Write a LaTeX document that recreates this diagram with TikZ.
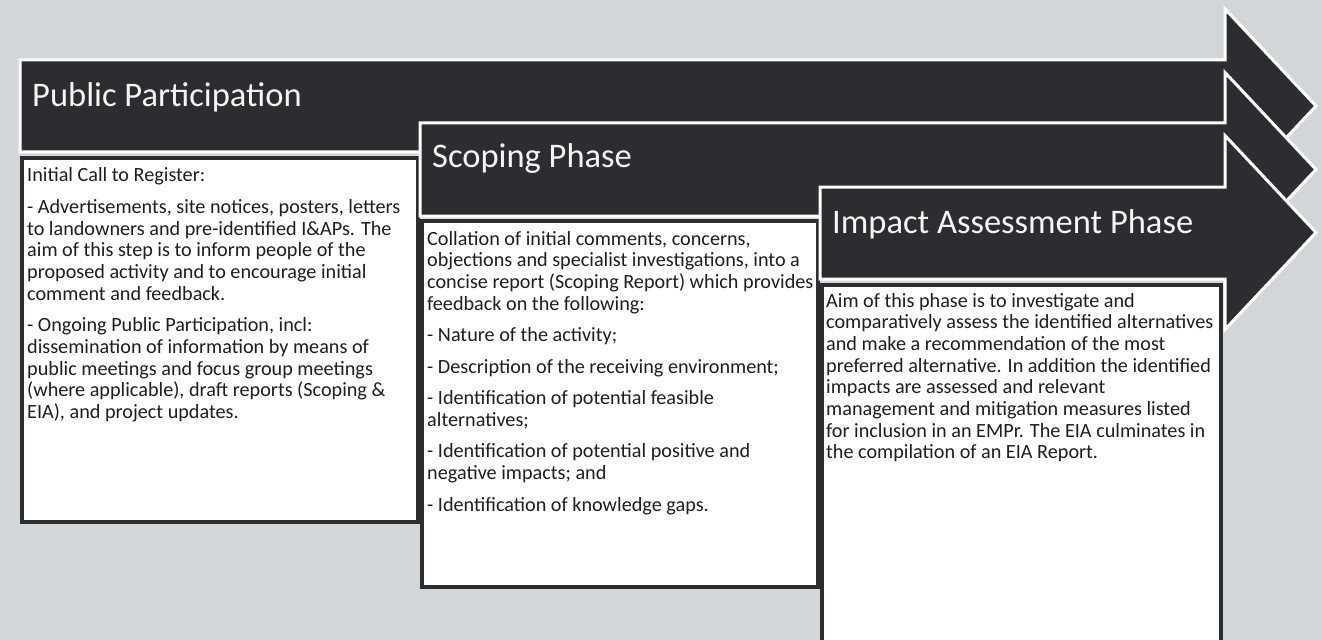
\documentclass[tikz,border=0pt]{standalone}
\usepackage{fontspec}
\setmainfont{Carlito}
\definecolor{bg}{HTML}{D3D6D9}
\definecolor{dk}{HTML}{2B2D30}
\definecolor{txt}{HTML}{1E1E1E}
\tikzset{
  phasearrow/.style={fill=dk, draw=white, line width=3bp, line join=miter},
  textbox/.style={fill=white, draw=dk, line width=4bp},
  titletext/.style={anchor=base west, inner sep=0, text=white!96!black, font=\fontsize{34.5bp}{40bp}\selectfont},
  bodytext/.style={anchor=base west, inner sep=0, text=txt, font=\fontsize{20.2bp}{21.7bp}\selectfont},
}
\newcommand{\pgap}{\\[9.8bp]}
\newenvironment{lines}{\begin{tabular}[t]{@{}l@{}}}{\end{tabular}}
\begin{document}
\begin{tikzpicture}[x=1bp,y=-1bp]
\useasboundingbox (0,0) rectangle (1322,640);
\clip (0,0) rectangle (1322,640);
\fill[bg] (0,0) rectangle (1322,640);
% Public Participation
\draw[phasearrow] (20,60) -- (1225,60) -- (1225,9) -- (1316,106) -- (1225,203) -- (1225,152) -- (20,152) -- cycle;
\node[titletext] (t1) at (32,107) {Public Participation};
\draw[textbox] (21.5,158) rectangle (418,522);
\node[bodytext] (b1) at (27,182) {\begin{lines}Initial Call to Register:\pgap
- Advertisements, site notices, posters, letters\\
to landowners and pre-identified I\&APs. The\\
aim of this step is to inform people of the\\
proposed activity and to encourage initial\\
comment and feedback.\pgap
- Ongoing Public Participation, incl:\\
dissemination of information by means of\\
public meetings and focus group meetings\\
(where applicable), draft reports (Scoping \&\\
EIA), and project updates.\end{lines}};
% Scoping Phase
\draw[phasearrow] (420,123) -- (1225,123) -- (1225,72.5) -- (1316,169.5) -- (1225,266.5) -- (1225,216) -- (420,216) -- cycle;
\node[titletext] (t2) at (432,168) {Scoping Phase};
\draw[textbox] (421.5,221) rectangle (818,587);
\node[bodytext] (b2) at (427,245) {\begin{lines}Collation of initial comments, concerns,\\
objections and specialist investigations, into a\\
concise report (Scoping Report) which provides\\
feedback on the following:\pgap
- Nature of the activity;\pgap
- Description of the receiving environment;\pgap
- Identification of potential feasible\\
alternatives;\pgap
- Identification of potential positive and\\
negative impacts; and\pgap
- Identification of knowledge gaps.\end{lines}};
% Impact Assessment Phase
\draw[phasearrow] (820,187) -- (1225,187) -- (1225,135.5) -- (1316,232.5) -- (1225,329.5) -- (1225,279) -- (820,279) -- cycle;
\node[titletext] (t3) at (832,233) {Impact Assessment Phase};
\draw[textbox] (821.5,285) rectangle (1221,660);
\node[bodytext] (b3) at (826,307) {\begin{lines}Aim of this phase is to investigate and\\
comparatively assess the identified alternatives\\
and make a recommendation of the most\\
preferred alternative. In addition the identified\\
impacts are assessed and relevant\\
management and mitigation measures listed\\
for inclusion in an EMPr. The EIA culminates in\\
the compilation of an EIA Report.\end{lines}};
\end{tikzpicture}
\end{document}
